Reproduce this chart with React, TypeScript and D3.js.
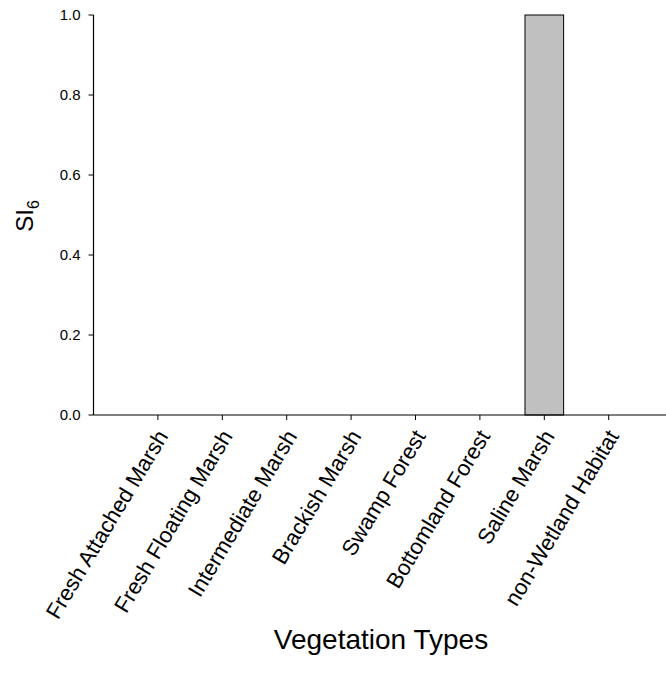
import React from "react";
import * as d3 from "d3";

const categories = [
  "Fresh Attached Marsh",
  "Fresh Floating Marsh",
  "Intermediate Marsh",
  "Brackish Marsh",
  "Swamp Forest",
  "Bottomland Forest",
  "Saline Marsh",
  "non-Wetland Habitat",
];
const values = [0, 0, 0, 0, 0, 0, 1.0, 0];
const yTicks = [0, 0.2, 0.4, 0.6, 0.8, 1.0];

export default function App() {
  const W = 666, H = 683;
  const left = 93.5, top = 15, bottom = 415;
  const x = d3.scaleLinear().domain([0, categories.length + 1]).range([left, left + 64.4 * 9]);
  const y = d3.scaleLinear().domain([0, 1]).range([bottom, top]);
  const bw = 64.4 * 0.6;
  const font = "Arial, 'Liberation Sans', sans-serif";
  return (
    <svg width={W} height={H} style={{ position: "absolute", left: 0, top: 0 }} fontFamily={font}>
      <rect width={W} height={H} fill="white" />
      {values.map((v, i) =>
        v > 0 ? (
          <rect key={i} x={x(i + 1) - bw / 2} y={y(v)} width={bw} height={y(0) - y(v)} fill="#c0c0c0" stroke="black" strokeWidth={1} />
        ) : null
      )}
      <line x1={left} x2={left} y1={top} y2={bottom} stroke="black" strokeWidth={1.2} />
      <line x1={left} x2={W} y1={bottom} y2={bottom} stroke="black" strokeWidth={1.2} />
      {yTicks.map((t) => (
        <g key={t}>
          <line x1={left - 5} x2={left} y1={y(t)} y2={y(t)} stroke="black" strokeWidth={1} />
          <text x={left - 13} y={y(t)} dy="0.35em" textAnchor="end" fontSize={15}>{t.toFixed(1)}</text>
        </g>
      ))}
      {categories.map((c, i) => (
        <g key={c}>
          <line x1={x(i + 1)} x2={x(i + 1)} y1={bottom} y2={bottom + 5} stroke="black" strokeWidth={1} />
          <text transform={`translate(${x(i + 1) + 11},${bottom + 21}) rotate(-59)`} textAnchor="end" fontSize={22}>{c}</text>
        </g>
      ))}
      <text x={381} y={649} textAnchor="middle" fontSize={28}>Vegetation Types</text>
      <text transform={`translate(33,216) rotate(-90)`} textAnchor="middle" fontSize={24}>
        SI<tspan fontSize={16} dy={6}>6</tspan>
      </text>
    </svg>
  );
}
